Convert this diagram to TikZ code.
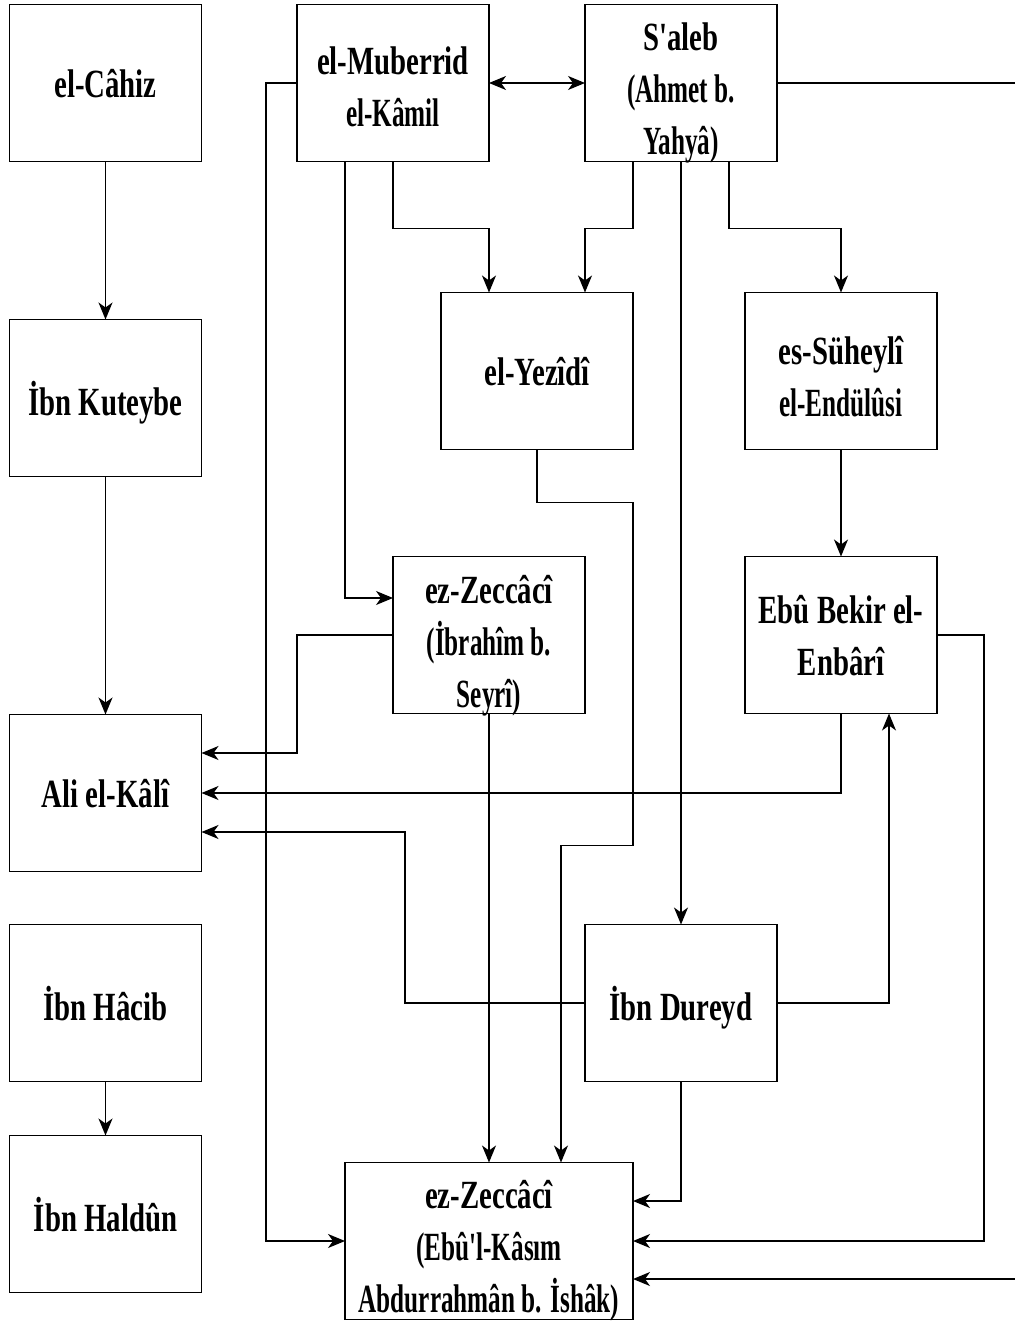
\documentclass[tikz,border=0pt]{standalone}
\usepackage{fontspec}
\newfontfamily\namefont{Liberation Serif}[FakeStretch=0.72]
\newfontfamily\minorfont{Liberation Serif}[FakeStretch=0.63]
\newcommand\minor{\minorfont\bfseries}
\newcommand\topgap[1]{\rule{0pt}{#1}}
\usepackage{tikz}
\usetikzlibrary{arrows.meta,positioning,calc}

\begin{document}
\begin{tikzpicture}[x=1pt,y=-1pt,>={Stealth[length=17pt,width=14pt,inset=5pt]},line join=miter,
  person/.style={draw,rectangle,line width=1.6pt,outer sep=0pt,inner ysep=0pt,text depth=0pt,
    minimum width=192pt,minimum height=157pt,
    align=center,font=\namefont\bfseries\fontsize{40}{52}\selectfont},
  link/.style={->,line width=1.3pt}]
\useasboundingbox (0,0) rectangle (1014,1324);
\node[person] (cah) at (105.5,83) {el-Câhiz};
\node[person] (mub) at (393,83) {\topgap{35pt}el-Muberrid\\\minor el-Kâmil};
\node[person] (sal) at (681,83) {\topgap{40pt}S'aleb\\\minor(Ahmet b.\\\minor Yahyâ)};
\node[person] (kut) at (105.5,398) {İbn Kuteybe};
\node[person] (yez) at (537,371) {el-Yezîdî};
\node[person] (suh) at (841,371) {\topgap{38pt}es-Süheylî\\\minor el-Endülûsi};
\node[person] (zec1) at (489,635) {\topgap{41pt}ez-Zeccâcî\\\minor(İbrahîm b.\\\minor Seyrî)};
\node[person] (enb) at (841,635) {Ebû Bekir el-\\Enbârî};
\node[person] (kal) at (105.5,793) {Ali el-Kâlî};
\node[person] (dur) at (681,1003) {İbn Dureyd};
\node[person] (hac) at (105.5,1003) {İbn Hâcib};
\node[person] (hal) at (105.5,1214) {İbn Haldûn};
\node[person,minimum width=288pt] (zec2) at (489,1241) {\topgap{38pt}ez-Zeccâcî\\\minor(Ebû'l-Kâsım\\\minor Abdurrahmân b. İshâk)};
\coordinate (rim) at (1020,83);

\draw[link] (cah) -- (kut);
\draw[link] (kut) -- (kal);
\draw[link] (hac) -- (hal);
\draw[link,<->] (mub) -- (sal);
\draw[link] (mub.west) -- ++(-31pt,0) |- (zec2.west);
\draw[link] ([xshift=-48pt]mub.south) |- ([yshift=37pt]zec1.west);
\draw[link] (mub.south) -- ++(0,-67pt) -| ([xshift=-48pt]yez.north);
\draw[link] ([xshift=-48pt]sal.south) -- ++(0,-67pt) -| ([xshift=48pt]yez.north);
\draw[link] (sal.south) -- (dur.north);
\draw[link] ([xshift=48pt]sal.south) -- ++(0,-67pt) -| (suh.north);
\draw[link] (sal.east) -- (rim) |- ([yshift=-38pt]zec2.east);
\draw[link] (yez.south) -- ++(0,-53pt) -- ++(96pt,0) -- ++(0,-343pt) -| ([xshift=72pt]zec2.north);
\draw[link] (zec1.west) -- ++(-96pt,0) |- ([yshift=40pt]kal.east);
\draw[link] (enb.south) |- (kal.east);
\draw[link] (dur.west) -- ++(-180pt,0) |- ([yshift=-39pt]kal.east);
\draw[link] (dur.east) -| ([xshift=48pt]enb.south);
\draw[link] (enb.east) -- ++(47pt,0) |- (zec2.east);
\draw[link] (dur.south) |- ([yshift=40pt]zec2.east);
\draw[link] (zec1.south) -- (zec2.north);
\draw[link] (suh) -- (enb);
\end{tikzpicture}
\end{document}
